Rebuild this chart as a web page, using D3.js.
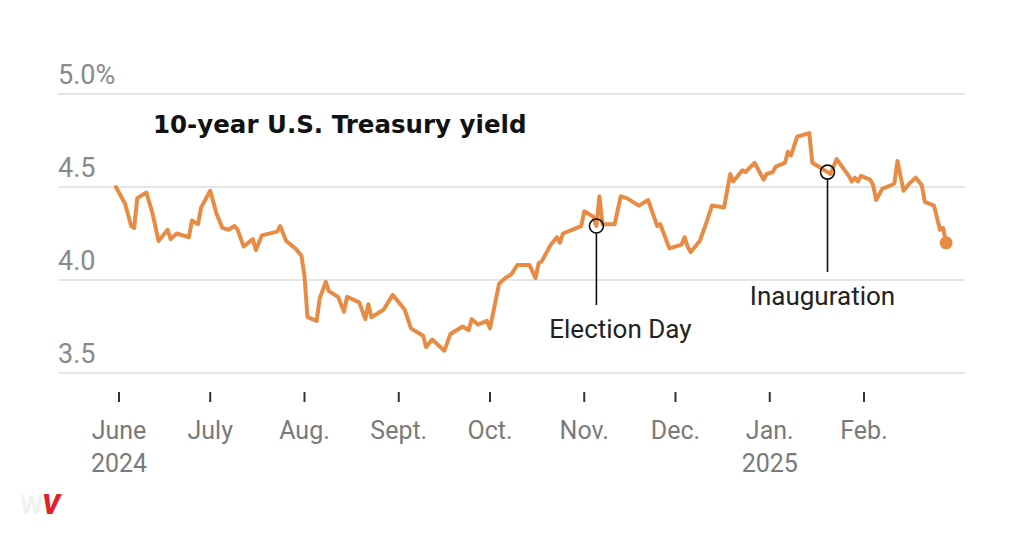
<!DOCTYPE html>
<html>
<head>
<meta charset="utf-8">
<script src="https://cdn.jsdelivr.net/npm/d3@7"></script>
<style>
  html, body { margin: 0; padding: 0; background: #fff; }
  svg { display: block; font-family: Roboto, "Liberation Sans", sans-serif; }
  .grid line { stroke: #dcdcdc; stroke-width: 1.5; }
  .ylab { fill: #8a8a8a; font-size: 27px; }
  .xlab { fill: #7a7a7a; font-size: 25px; }
  .tick-mark { stroke: #333; stroke-width: 2; }
  .title { font-family: "DejaVu Sans", sans-serif; font-size: 24.5px; font-weight: 700; fill: #121212; }
  .annot { font-size: 26px; fill: #222; }
</style>
</head>
<body>
<svg id="chart"></svg>
<script>
// 10-year Treasury yield (%)
const dates = [
  '2024-05-31','2024-06-03','2024-06-05','2024-06-06','2024-06-07','2024-06-10','2024-06-12','2024-06-14',
  '2024-06-17','2024-06-18','2024-06-20','2024-06-24','2024-06-25','2024-06-27','2024-06-28','2024-07-01',
  '2024-07-03','2024-07-05','2024-07-07','2024-07-09','2024-07-10','2024-07-12','2024-07-15','2024-07-16',
  '2024-07-18','2024-07-23','2024-07-24','2024-07-26','2024-07-29','2024-07-31','2024-08-01','2024-08-02',
  '2024-08-05','2024-08-06','2024-08-08','2024-08-09','2024-08-12','2024-08-14','2024-08-15','2024-08-19',
  '2024-08-21','2024-08-22','2024-08-23','2024-08-27','2024-08-30','2024-09-03','2024-09-05','2024-09-09',
  '2024-09-10','2024-09-12','2024-09-16','2024-09-18','2024-09-22','2024-09-24','2024-09-25','2024-09-27',
  '2024-09-30','2024-10-01','2024-10-02','2024-10-04','2024-10-06','2024-10-08','2024-10-10','2024-10-14',
  '2024-10-16','2024-10-17','2024-10-18','2024-10-21','2024-10-23','2024-10-24','2024-10-25','2024-10-28',
  '2024-10-31','2024-11-01','2024-11-04','2024-11-05','2024-11-06','2024-11-07','2024-11-11','2024-11-13',
  '2024-11-15','2024-11-19','2024-11-22','2024-11-25','2024-11-26','2024-11-29','2024-12-03','2024-12-04',
  '2024-12-05','2024-12-06','2024-12-09','2024-12-11','2024-12-13','2024-12-17','2024-12-19','2024-12-20',
  '2024-12-23','2024-12-24','2024-12-27','2024-12-30','2024-12-31','2025-01-02','2025-01-03','2025-01-06',
  '2025-01-07','2025-01-08','2025-01-10','2025-01-14','2025-01-15','2025-01-17','2025-01-20','2025-01-21',
  '2025-01-23','2025-01-27','2025-01-28','2025-01-29','2025-01-30','2025-01-31','2025-02-03','2025-02-04',
  '2025-02-05','2025-02-07','2025-02-10','2025-02-11','2025-02-12','2025-02-14','2025-02-16','2025-02-18',
  '2025-02-20','2025-02-21','2025-02-24','2025-02-26','2025-02-27','2025-02-28'
];
const yields = [
  4.50, 4.41, 4.29, 4.28, 4.44, 4.47, 4.36, 4.21,
  4.27, 4.22, 4.25, 4.23, 4.32, 4.30, 4.39, 4.48,
  4.36, 4.28, 4.27, 4.29, 4.27, 4.18, 4.22, 4.16,
  4.24, 4.26, 4.29, 4.21, 4.17, 4.13, 4.02, 3.80,
  3.78, 3.90, 3.99, 3.94, 3.91, 3.83, 3.91, 3.88,
  3.79, 3.87, 3.80, 3.84, 3.92, 3.84, 3.74, 3.70,
  3.64, 3.68, 3.62, 3.71, 3.75, 3.73, 3.79, 3.76,
  3.78, 3.74, 3.82, 3.98, 4.01, 4.03, 4.08, 4.08,
  4.01, 4.09, 4.10, 4.19, 4.23, 4.20, 4.25, 4.27,
  4.29, 4.37, 4.34, 4.29, 4.45, 4.30, 4.30, 4.45,
  4.44, 4.40, 4.43, 4.29, 4.30, 4.17, 4.19, 4.23,
  4.18, 4.15, 4.21, 4.30, 4.40, 4.39, 4.57, 4.53,
  4.59, 4.58, 4.63, 4.54, 4.57, 4.58, 4.61, 4.63,
  4.69, 4.67, 4.77, 4.79, 4.63, 4.61, 4.58, 4.57,
  4.65, 4.56, 4.53, 4.55, 4.53, 4.56, 4.54, 4.51,
  4.43, 4.49, 4.51, 4.52, 4.64, 4.48, 4.52, 4.55,
  4.51, 4.42, 4.40, 4.27, 4.28, 4.20
];

const yTicks = [5.0, 4.5, 4.0, 3.5];
const yTickLabels = ['5.0%', '4.5', '4.0', '3.5'];
const monthTicks = ['2024-06-01','2024-07-01','2024-08-01','2024-09-01','2024-10-01',
                    '2024-11-01','2024-12-01','2025-01-01','2025-02-01'];
const monthLabels = ['June','July','Aug.','Sept.','Oct.','Nov.','Dec.','Jan.','Feb.'];
const yearLabels = ['2024','','','','','','','2025',''];

const annotDates = ['2024-11-05', '2025-01-20'];
const annotLabels = ['Election Day', 'Inauguration'];

const W = 1024, H = 536;
const parse = d3.utcParse('%Y-%m-%d');
const data = dates.map((d, i) => ({ date: parse(d), v: yields[i] }));

const svg = d3.select('#chart').attr('width', W).attr('height', H);

const x = d3.scaleUtc()
  .domain([parse(monthTicks[0]), parse(monthTicks[8])])
  .range([119, 864]);
const y = d3.scaleLinear().domain([3.5, 5.0]).range([373, 94]);

// gridlines + y labels
const grid = svg.append('g').attr('class', 'grid');
grid.selectAll('line').data(yTicks).join('line')
  .attr('x1', 58).attr('x2', 965)
  .attr('y1', (d) => y(d)).attr('y2', (d) => y(d));
svg.append('g').selectAll('text').data(yTicks).join('text')
  .attr('class', 'ylab')
  .attr('x', 58).attr('y', (d) => y(d) - 10)
  .text((d, i) => yTickLabels[i]);

// title
svg.append('text').attr('class', 'title').attr('x', 153).attr('y', 133)
  .text('10-year U.S. Treasury yield');

// x axis ticks and labels
const xt = svg.append('g').selectAll('g').data(monthTicks).join('g')
  .attr('transform', (d) => `translate(${x(parse(d))},0)`);
xt.append('line').attr('class', 'tick-mark').attr('y1', 392).attr('y2', 402);
xt.append('text').attr('class', 'xlab').attr('text-anchor', 'middle').attr('y', 439)
  .text((d, i) => monthLabels[i]);
xt.append('text').attr('class', 'xlab').attr('text-anchor', 'middle').attr('y', 472)
  .text((d, i) => yearLabels[i]);

// the line
const line = d3.line().x((d) => x(d.date)).y((d) => y(d.v)).curve(d3.curveLinear);
svg.append('path').datum(data)
  .attr('fill', 'none')
  .attr('stroke', '#e88c45')
  .attr('stroke-width', 4)
  .attr('stroke-linejoin', 'round')
  .attr('stroke-linecap', 'round')
  .attr('d', line);

const last = data[data.length - 1];
svg.append('circle').attr('cx', x(last.date)).attr('cy', y(last.v)).attr('r', 6.5)
  .attr('fill', '#e88c45');

// annotations: ring on the line, leader down, label below
const byDate = new Map(data.map((d) => [+d.date, d]));
const annotY = [305, 272];       // leader line end
const annotTextY = [338, 305];   // label baseline
const annotTextDx = [24, -5];
annotDates.forEach((ds, i) => {
  const d = byDate.get(+parse(ds));
  const cx = x(d.date), cy = y(d.v);
  svg.append('circle').attr('cx', cx).attr('cy', cy).attr('r', 7)
    .attr('fill', 'none').attr('stroke', '#111').attr('stroke-width', 1.6);
  svg.append('line').attr('x1', cx).attr('x2', cx).attr('y1', cy + 7).attr('y2', annotY[i])
    .attr('stroke', '#111').attr('stroke-width', 1.6);
  svg.append('text').attr('class', 'annot').attr('text-anchor', 'middle')
    .attr('x', cx + annotTextDx[i]).attr('y', annotTextY[i]).text(annotLabels[i]);
});

// small watermark, bottom left
svg.append('text').attr('x', 20).attr('y', 514).attr('font-size', 26).attr('font-weight', 700)
  .attr('fill', '#f1f1f1').text('W');
svg.append('text').attr('x', 42).attr('y', 514).attr('font-size', 28).attr('font-weight', 900)
  .attr('font-style', 'italic').attr('fill', '#e3212b').text('V');
</script>
</body>
</html>
